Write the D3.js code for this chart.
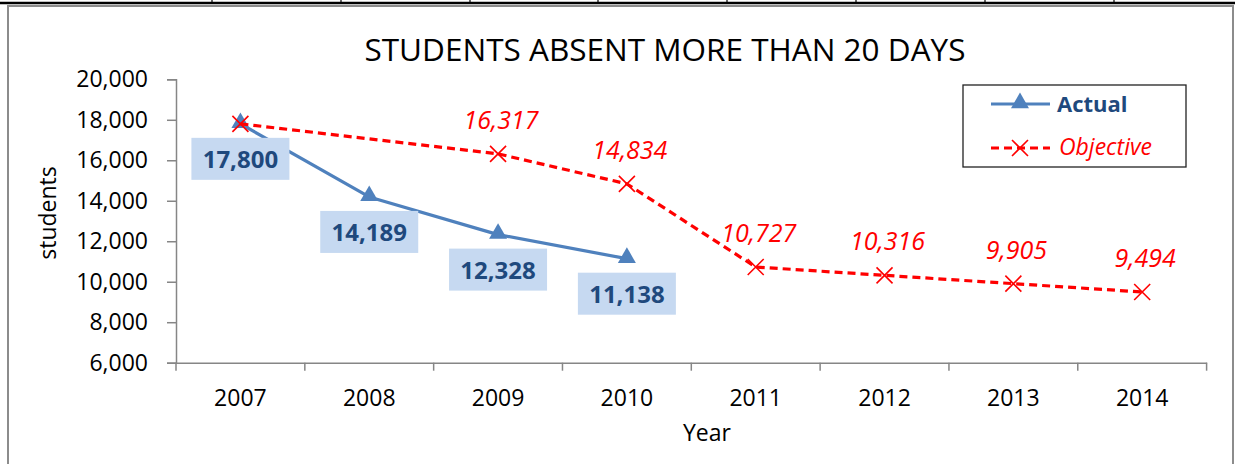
<!DOCTYPE html>
<html><head><meta charset="utf-8">
<script src="https://cdn.jsdelivr.net/npm/d3@7"></script>
<style>html,body{margin:0;padding:0;background:#fff;}svg{display:block;font-family:"Open Sans",sans-serif;}</style>
</head><body>
<svg id="c" width="1235" height="464"></svg>
<script>
const title = "STUDENTS ABSENT MORE THAN 20 DAYS";
const years = ["2007","2008","2009","2010","2011","2012","2013","2014"];
const actual = [17800, 14189, 12328, 11138, null, null, null, null];
const objective = [17800, null, 16317, 14834, 10727, 10316, 9905, 9494];
const objectiveLabelShown = [false, false, true, true, true, true, true, true];
const yTicks = [6000, 8000, 10000, 12000, 14000, 16000, 18000, 20000];
const topRuleXs = [212, 341, 470, 598, 727, 856, 985, 1114];

const svg = d3.select("#c");
const blue = "#4F81BD", red = "#FF0000", axisCol = "#868686", labelBlue = "#1F497D";

// top table remnant
svg.append("line").attr("x1",0).attr("x2",1235).attr("y1",3).attr("y2",3).attr("stroke","#000").attr("stroke-width",2.5);
svg.selectAll(".tr").data(topRuleXs).join("line").attr("x1",d=>d).attr("x2",d=>d).attr("y1",0).attr("y2",3).attr("stroke","#000").attr("stroke-width",1.2);
// chart border
svg.append("rect").attr("x",8).attr("y",6).attr("width",1225).attr("height",470).attr("fill","none").attr("stroke","#8c8c8c").attr("stroke-width",2);

const x = d3.scaleBand().domain(years).range([176, 1206.6]).paddingInner(0).paddingOuter(0);
const y = d3.scaleLinear().domain([6000, 20000]).range([362.7, 79.3]);
const cx = d => x(d) + x.bandwidth()/2;

// title
svg.append("text").attr("x",665).attr("y",61).attr("text-anchor","middle").attr("font-size",31.5).attr("fill","#000").text(title);

// y axis
const ya = svg.append("g").attr("transform","translate(176,0)")
  .call(d3.axisLeft(y).tickValues(yTicks).tickFormat(d3.format(",")).tickSize(9).tickPadding(19));
ya.select(".domain").attr("stroke",axisCol).attr("stroke-width",1.5);
ya.selectAll(".tick line").attr("stroke",axisCol).attr("stroke-width",1.5);
ya.selectAll(".tick text").attr("font-size",23).attr("fill","#000").attr("font-family","Open Sans, sans-serif");

// x axis
const xa = svg.append("g").attr("transform","translate(0,362.7)")
  .call(d3.axisBottom(x).tickSize(0).tickPadding(27));
xa.select(".domain").attr("stroke",axisCol).attr("stroke-width",1.5);
xa.selectAll(".tick text").attr("font-size",23).attr("fill","#000").attr("font-family","Open Sans, sans-serif");
const bounds = years.map(d=>x(d)).concat([x.range()[1]]);
xa.selectAll(".bt").data(bounds).join("line").attr("x1",d=>d).attr("x2",d=>d).attr("y1",0).attr("y2",8).attr("stroke",axisCol).attr("stroke-width",1.5);

// axis titles
svg.append("text").attr("transform","translate(56,213) rotate(-90)").attr("text-anchor","middle").attr("font-size",23).attr("fill","#000").text("students");
svg.append("text").attr("x",707).attr("y",441).attr("text-anchor","middle").attr("font-size",23).attr("fill","#000").text("Year");

// actual line
const aPts = years.map((d,i)=>({c:d,v:actual[i]})).filter(p=>p.v!=null);
const line = d3.line().x(p=>cx(p.c)).y(p=>y(p.v));
svg.append("path").attr("d",line(aPts)).attr("fill","none").attr("stroke",blue).attr("stroke-width",3.2).attr("stroke-linejoin","round");
const tri = d3.symbol().type(d3.symbolTriangle).size(140);
svg.selectAll(".am").data(aPts).join("path").attr("d",tri()).attr("transform",p=>`translate(${cx(p.c)},${y(p.v)-1})`).attr("fill",blue);

// objective line
const oPts = years.map((d,i)=>({c:d,v:objective[i],show:objectiveLabelShown[i]})).filter(p=>p.v!=null);
svg.append("path").attr("d",line(oPts)).attr("fill","none").attr("stroke",red).attr("stroke-width",3.2).attr("stroke-dasharray","8,5");
const xMark = "M-8,-8L8,8M-8,8L8,-8";
svg.selectAll(".om").data(oPts).join("path").attr("d",xMark).attr("transform",p=>`translate(${cx(p.c)},${y(p.v)})`).attr("stroke",red).attr("stroke-width",1.6).attr("fill","none");

// actual labels
const ag = svg.selectAll(".al").data(aPts).join("g").attr("transform",p=>`translate(${cx(p.c)},${y(p.v)+35})`);
ag.append("rect").attr("x",-49).attr("y",-21).attr("width",98).attr("height",42).attr("fill","#C6D9F1");
ag.append("text").attr("text-anchor","middle").attr("y",9).attr("font-size",24).attr("font-weight","bold").attr("fill",labelBlue).text(p=>d3.format(",")(p.v));

// objective labels
svg.selectAll(".ol").data(oPts.filter(p=>p.show)).join("text")
  .attr("x",p=>cx(p.c)+3).attr("y",p=>y(p.v)-25).attr("text-anchor","middle").attr("font-size",25).attr("font-style","italic").attr("fill",red)
  .text(p=>d3.format(",")(p.v));

// legend
const lg = svg.append("g");
lg.append("rect").attr("x",963).attr("y",85).attr("width",223).attr("height",82).attr("fill","#fff").attr("stroke","#222").attr("stroke-width",1.3);
lg.append("line").attr("x1",991).attr("x2",1050).attr("y1",104).attr("y2",104).attr("stroke",blue).attr("stroke-width",3.2);
lg.append("path").attr("d",tri()).attr("transform","translate(1020,103)").attr("fill",blue);
lg.append("text").attr("x",1057).attr("y",112).attr("font-size",22).attr("font-weight","bold").attr("fill",labelBlue).text("Actual");
lg.append("line").attr("x1",991).attr("x2",1050).attr("y1",148).attr("y2",148).attr("stroke",red).attr("stroke-width",3.2).attr("stroke-dasharray","8,5");
lg.append("path").attr("d",xMark).attr("transform","translate(1020,148)").attr("stroke",red).attr("stroke-width",1.6).attr("fill","none");
lg.append("text").attr("x",1059).attr("y",155).attr("font-size",23).attr("font-style","italic").attr("fill",red).text("Objective");
</script>
</body></html>
